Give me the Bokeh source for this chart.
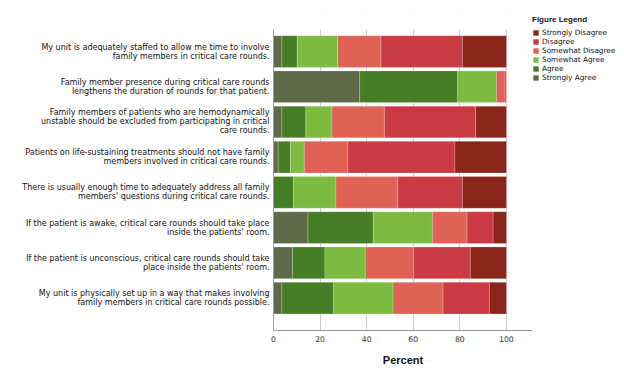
from bokeh.plotting import figure
from bokeh.models import (ColumnDataSource, Range1d, FixedTicker, Legend, LegendItem,
                          BoxAnnotation)
from bokeh.embed import file_html
from bokeh.resources import INLINE

statements = [
    "My unit is adequately staffed to allow me time to involve\nfamily members in critical care rounds.",
    "Family member presence during critical care rounds\nlengthens the duration of rounds for that patient.",
    "Family members of patients who are hemodynamically\nunstable should be excluded from participating in critical\ncare rounds.",
    "Patients on life-sustaining treatments should not have family\nmembers involved in critical care rounds.",
    "There is usually enough time to adequately address all family\nmembers' questions during critical care rounds.",
    "If the patient is awake, critical care rounds should take place\ninside the patients' room.",
    "If the patient is unconscious, critical care rounds should take\nplace inside the patients' room.",
    "My unit is physically set up in a way that makes involving\nfamily members in critical care rounds possible.",
]

strongly_agree    = [3.6, 37.0, 3.6, 2.0, 0.0, 14.8, 8.2, 3.6]
agree             = [6.6, 42.1, 10.3, 5.3, 8.6, 28.0, 13.9, 22.2]
somewhat_agree    = [17.3, 16.6, 11.2, 5.9, 18.2, 25.4, 17.3, 25.5]
somewhat_disagree = [18.6, 3.7, 22.5, 18.7, 26.6, 14.9, 20.8, 21.5]
disagree          = [35.0, 0.6, 39.2, 46.0, 27.7, 11.2, 24.3, 19.9]
strongly_disagree = [18.9, 0.0, 13.2, 22.1, 18.9, 5.7, 15.5, 7.3]

series_names = ["Strongly Agree", "Agree", "Somewhat Agree",
                "Somewhat Disagree", "Disagree", "Strongly Disagree"]
series_keys = ["sa", "a", "swa", "swd", "d", "sd"]
colors = ["#5f6b48", "#467e26", "#7cbb40", "#e06256", "#c93a43", "#8b2419"]
x_ticks = [0, 20, 40, 60, 80, 100]
legend_title = "Figure Legend"
x_label = "Percent"

source = ColumnDataSource(dict(
    y=list(range(len(statements))),
    sa=strongly_agree, a=agree, swa=somewhat_agree,
    swd=somewhat_disagree, d=disagree, sd=strongly_disagree,
))

X_END = 111.2
Y_TOP_END = -1.023
Y_GRID_TOP = -0.625
Y_BOTTOM = 7.92

p = figure(output_backend="svg", toolbar_location=None,
           frame_width=259, frame_height=315,
           min_border_left=273, min_border_top=15, min_border_bottom=38,
           min_border_right=0,
           x_range=Range1d(0, X_END), y_range=Range1d(Y_BOTTOM, Y_TOP_END))
p.outline_line_color = None
p.background_fill_color = "white"

renderers = p.hbar_stack(series_keys, y="y", height=0.9, color=colors,
                         source=source, line_color="white", line_alpha=0.35,
                         line_width=0.6)

# x axis
p.xaxis.ticker = FixedTicker(ticks=x_ticks)
p.xaxis.major_tick_out = 0
p.xaxis.major_tick_in = 0
p.xaxis.minor_tick_line_color = None
p.xaxis.axis_line_color = "#9a9a9a"
p.xaxis.major_label_text_font = "DejaVu Sans"
p.xaxis.major_label_text_font_size = "7.7px"
p.xaxis.major_label_text_color = "#333333"
p.xaxis.major_label_standoff = 5
p.xaxis.axis_label = x_label
p.xaxis.axis_label_text_font = "Liberation Sans"
p.xaxis.axis_label_text_font_size = "11px"
p.xaxis.axis_label_text_font_style = "bold"
p.xaxis.axis_label_text_color = "#111111"
p.xaxis.axis_label_standoff = 9

# y axis
p.yaxis.ticker = FixedTicker(ticks=list(range(len(statements))))
p.yaxis.bounds = (Y_GRID_TOP, Y_BOTTOM)
p.yaxis.major_label_overrides = {i: s for i, s in enumerate(statements)}
p.yaxis.major_tick_out = 0
p.yaxis.major_tick_in = 0
p.yaxis.minor_tick_line_color = None
p.yaxis.axis_line_color = "#9a9a9a"
p.yaxis.major_label_text_font = "DejaVu Sans"
p.yaxis.major_label_text_font_size = "8px"
p.yaxis.major_label_text_color = "#111111"
p.yaxis.major_label_text_line_height = 1.0
p.yaxis.major_label_standoff = 4

p.xgrid.ticker = FixedTicker(ticks=x_ticks)
p.xgrid.grid_line_color = "#cccccc"
p.ygrid.grid_line_color = None

# white mask so that the grid lines start just above the first bar
mask = BoxAnnotation(left=0, right=X_END, top=Y_TOP_END, bottom=Y_GRID_TOP,
                     fill_color="white", fill_alpha=1.0, line_color=None)
p.add_layout(mask)

items = [LegendItem(label=series_names[i], renderers=[renderers[i]])
         for i in reversed(range(len(series_names)))]
legend = Legend(items=items, location="top_left", margin=0, padding=1,
                spacing=0, glyph_width=7, glyph_height=7, label_height=9,
                label_standoff=3, label_text_font="DejaVu Sans",
                label_text_font_size="7.3px", label_text_color="#111111",
                title=legend_title, title_text_font="Liberation Sans",
                title_text_font_size="8px", title_text_font_style="bold",
                title_text_color="#111111", title_standoff=4,
                border_line_color=None, background_fill_alpha=0)
p.add_layout(legend, "right")

open("out.html", "w").write(file_html(p, INLINE))
